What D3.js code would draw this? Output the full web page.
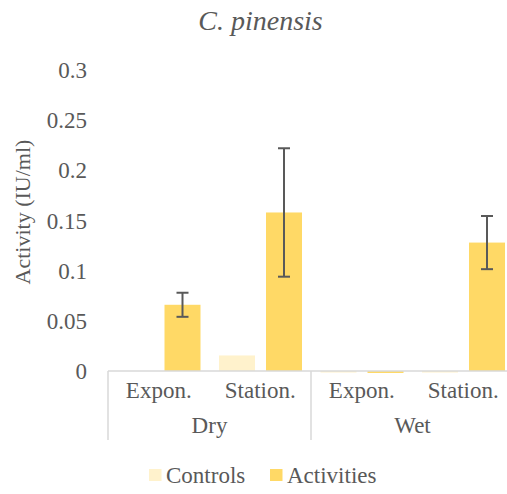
<!DOCTYPE html>
<meta charset="utf-8">
<script src="https://d3js.org/d3.v7.min.js"></script>
<div id="my_dataviz"></div>
<script>

// data
var conditions = ["Dry", "Wet"];
var phases = ["Expon.", "Station."];
var series = ["Controls", "Activities"];
var controls = [0, 0.0155, -0.001, -0.001];
var activities = [0.066, 0.158, -0.002, 0.128];
var activityErrors = [0.012, 0.064, null, 0.0265];
var yTicks = [0, 0.05, 0.1, 0.15, 0.2, 0.25, 0.3];

var colors = {Controls: "#FFF2CC", Activities: "#FFD966"};
var serif = "Liberation Serif";

var width = 507, height = 494;
var margin = {top: 70, left: 108, bottom: 123};

d3.select("body").style("margin", "0").style("background", "#fff");

var svg = d3.select("#my_dataviz")
  .append("svg")
    .attr("width", width)
    .attr("height", height)
    .style("display", "block");

// every label gets its font set on itself
function label(sel, size) {
  return sel
    .attr("font-family", serif)
    .style("font-family", serif)
    .attr("font-size", size)
    .attr("fill", "#595959");
}

// categories = condition x phase
var cats = [];
conditions.forEach(function(c) {
  phases.forEach(function(p) { cats.push(c + "|" + p); });
});

var rows = cats.map(function(k, i) {
  return {key: k, values: [
    {s: "Controls", v: controls[i], e: null},
    {s: "Activities", v: activities[i], e: activityErrors[i]}
  ]};
});

var x0 = d3.scaleBand()
  .domain(cats)
  .range([margin.left, margin.left + 406])
  .padding(0);

var x1 = d3.scaleBand()
  .domain(series)
  .range([9.5, 92.5])
  .paddingInner(0.234);

var y = d3.scaleLinear()
  .domain([0, 0.3])
  .range([371, 70]);

// title
svg.append("text")
  .attr("x", 260.5)
  .attr("y", 30)
  .attr("text-anchor", "middle")
  .attr("font-style", "italic")
  .call(label, 28)
  .text("C. pinensis");

// y tick labels (no axis line in the original)
svg.append("g")
  .selectAll("text")
  .data(yTicks)
  .enter()
  .append("text")
    .attr("x", 87)
    .attr("y", function(d) { return y(d); })
    .attr("dy", "0.35em")
    .attr("text-anchor", "end")
    .call(label, 23)
    .text(function(d) { return d3.format("~g")(d); });

// y title
svg.append("text")
  .attr("transform", "translate(30,212) rotate(-90)")
  .attr("text-anchor", "middle")
  .call(label, 22)
  .text("Activity (IU/ml)");

// bars
var groups = svg.append("g")
  .selectAll("g")
  .data(rows)
  .enter()
  .append("g")
    .attr("transform", function(d) { return "translate(" + x0(d.key) + ",0)"; });

groups.selectAll("rect")
  .data(function(d) { return d.values; })
  .enter()
  .append("rect")
    .attr("x", function(d) { return x1(d.s); })
    .attr("width", x1.bandwidth())
    .attr("y", function(d) { return y(Math.max(0, d.v)); })
    .attr("height", function(d) { return d.v === 0 ? 0 : Math.max(1.5, Math.abs(y(d.v) - y(0))); })
    .attr("fill", function(d) { return colors[d.s]; });

// error bars
var errs = groups.selectAll("g.err")
  .data(function(d) { return d.values.filter(function(v) { return v.e != null; }); })
  .enter()
  .append("g")
    .attr("class", "err")
    .attr("transform", function(d) { return "translate(" + (x1(d.s) + x1.bandwidth() / 2) + ",0)"; });

errs.append("line")
  .attr("y1", function(d) { return y(d.v + d.e); })
  .attr("y2", function(d) { return y(d.v - d.e); })
  .attr("stroke", "#595959")
  .attr("stroke-width", 2);

errs.selectAll("line.cap")
  .data(function(d) { return [d.v + d.e, d.v - d.e]; })
  .enter()
  .append("line")
    .attr("class", "cap")
    .attr("x1", -6).attr("x2", 6)
    .attr("y1", function(d) { return y(d); })
    .attr("y2", function(d) { return y(d); })
    .attr("stroke", "#595959")
    .attr("stroke-width", 2);

// category axis
var axis = svg.append("g");
axis.append("line")
  .attr("x1", margin.left).attr("x2", margin.left + 406)
  .attr("y1", y(0)).attr("y2", y(0))
  .attr("stroke", "#D9D9D9")
  .attr("stroke-width", 1.5);

// group separators
var seps = [0, 2, 4].map(function(i) { return margin.left + i * x0.bandwidth(); });
axis.selectAll("line.sep")
  .data(seps)
  .enter()
  .append("line")
    .attr("class", "sep")
    .attr("x1", function(d) { return d; }).attr("x2", function(d) { return d; })
    .attr("y1", y(0)).attr("y2", 440)
    .attr("stroke", "#D9D9D9")
    .attr("stroke-width", 1.5);

axis.selectAll("text.phase")
  .data(cats)
  .enter()
  .append("text")
    .attr("class", "phase")
    .attr("x", function(d) { return x0(d) + x0.bandwidth() / 2; })
    .attr("y", 398)
    .attr("text-anchor", "middle")
    .call(label, 23)
    .text(function(d) { return d.split("|")[1]; });

axis.selectAll("text.cond")
  .data(conditions)
  .enter()
  .append("text")
    .attr("class", "cond")
    .attr("x", function(d, i) { return margin.left + (i * 2 + 1) * x0.bandwidth(); })
    .attr("y", 433)
    .attr("text-anchor", "middle")
    .call(label, 23)
    .text(function(d) { return d; });

// legend
var legendX = [149, 270];
var legend = svg.append("g")
  .selectAll("g")
  .data(series)
  .enter()
  .append("g")
    .attr("transform", function(d, i) { return "translate(" + legendX[i] + ",469)"; });

legend.append("rect")
  .attr("width", 12.5)
  .attr("height", 12)
  .attr("fill", function(d) { return colors[d]; });

legend.append("text")
  .attr("x", 17)
  .attr("y", 14)
  .call(label, 23)
  .text(function(d) { return d; });

</script>
